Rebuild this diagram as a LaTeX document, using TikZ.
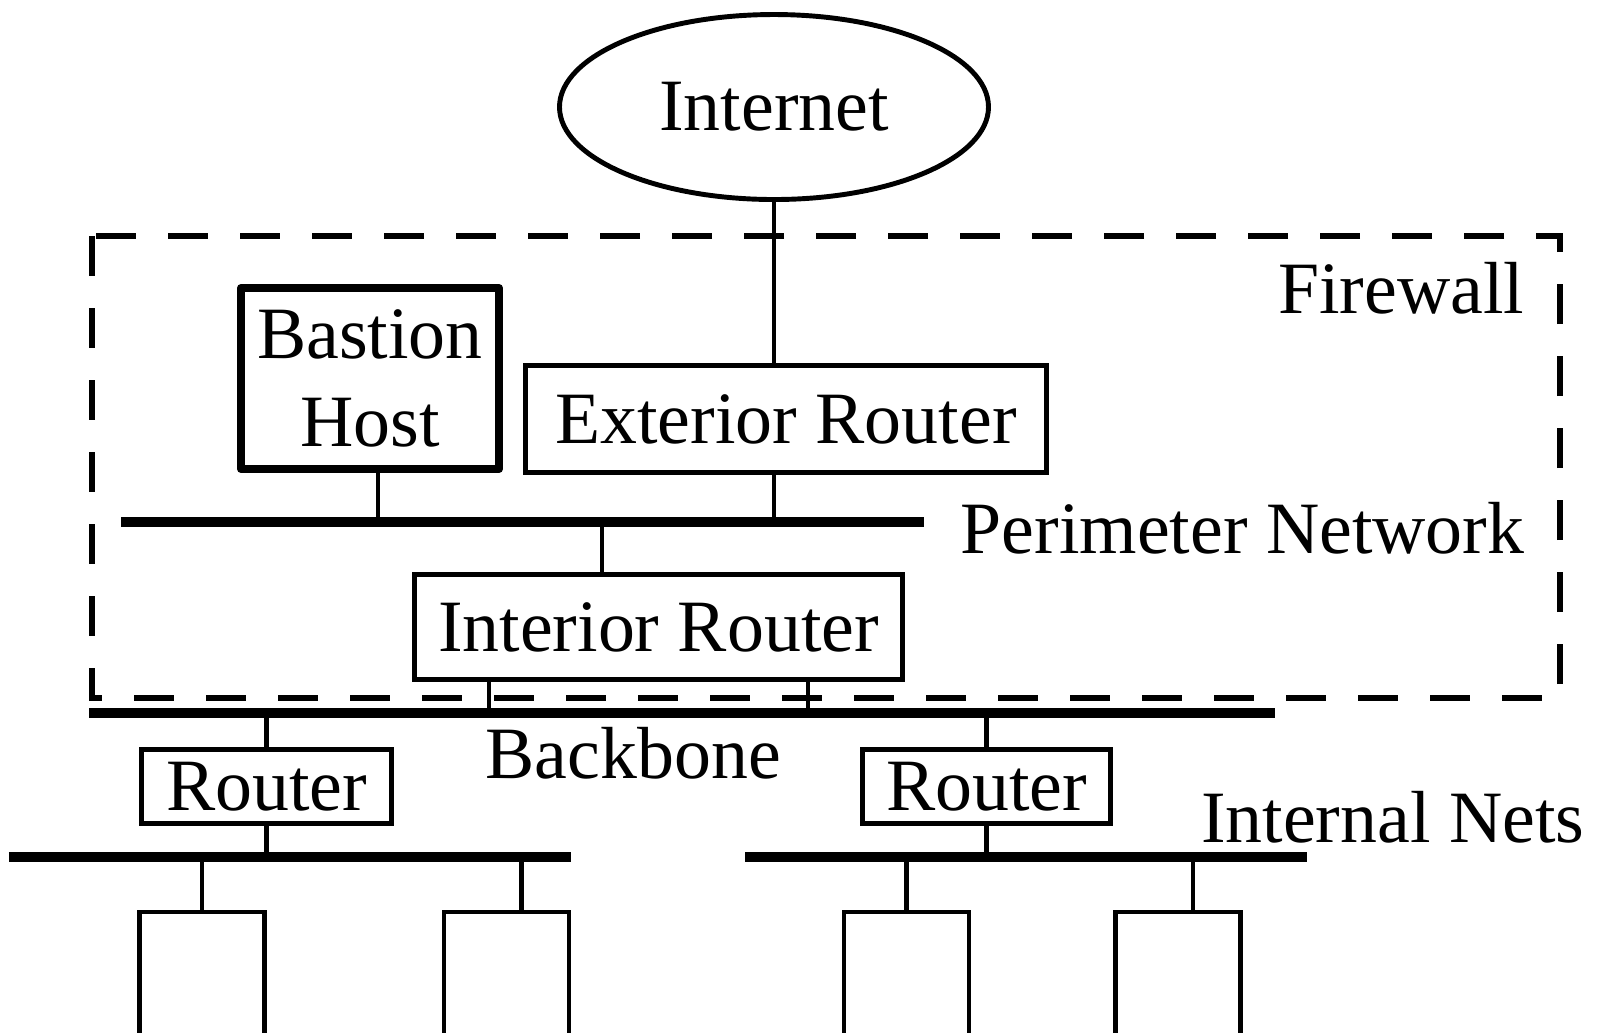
\documentclass[tikz,border=0pt]{standalone}
\usepackage{fontspec}
\setmainfont{Liberation Serif}
\usetikzlibrary{shapes.geometric}

\begin{document}
\begin{tikzpicture}[font=\fontsize{21}{25}\selectfont,
                box/.style={draw, line width=1.4pt, inner sep=0pt},
                bastionbox/.style={draw, line width=2.3pt, line join=round, inner sep=0pt, align=center},
                netline/.style={line width=3pt},
                link/.style={line width=1.4pt},
                lbl/.style={inner sep=0pt}]

                    \useasboundingbox (0,0) rectangle (16.04,-10.32);

                    \node[ellipse, draw, line width=1.4pt, minimum width=4.29cm, minimum height=1.85cm] (inet) at (7.74,-1.07) {Internet};
                    \node[box, minimum width=5.21cm, minimum height=1.07cm] (ext) at (7.86,-4.19) {Exterior Router};
                    \node[bastionbox, minimum width=2.58cm, minimum height=1.81cm] (bastion) at (3.70,-3.785) {Bastion\\Host};
                    \node[box, minimum width=4.88cm, minimum height=1.05cm] (intr) at (6.585,-6.27) {Interior Router};
                    \node[box, minimum width=2.50cm, minimum height=0.74cm] (rtl) at (2.665,-7.865) {Router};
                    \node[box, minimum width=2.48cm, minimum height=0.74cm] (rtr) at (9.865,-7.865) {Router};
                    \node[box, minimum width=1.25cm, minimum height=1.6cm, anchor=north] (h1) at (2.02,-9.095) {};
                    \node[box, minimum width=1.25cm, minimum height=1.6cm, anchor=north] (h2) at (5.065,-9.095) {};
                    \node[box, minimum width=1.25cm, minimum height=1.6cm, anchor=north] (h3) at (9.065,-9.095) {};
                    \node[box, minimum width=1.25cm, minimum height=1.6cm, anchor=north] (h4) at (11.78,-9.095) {};

                    \node[lbl, anchor=base east] (fwlbl) at (15.25,-3.13) {Firewall};
                    \node[lbl, anchor=base east] (perimlbl) at (15.25,-5.53) {Perimeter Network};
                    \node[lbl, anchor=base west] (bblbl) at (4.85,-7.78) {Backbone};
                    \node[lbl, anchor=base east] (intlbl) at (15.85,-8.42) {Internal Nets};

                    \coordinate (perimW) at (1.21,-5.22); \coordinate (perimE) at (9.24,-5.22);
                    \coordinate (bbW) at (0.89,-7.13); \coordinate (bbE) at (12.75,-7.13);
                    \coordinate (intLW) at (0.09,-8.57); \coordinate (intLE) at (5.71,-8.57);
                    \coordinate (intRW) at (7.45,-8.57); \coordinate (intRE) at (13.07,-8.57);
                    \coordinate (intrup) at (6.02,-5.22);
                    \coordinate (bbA) at (4.89,-7.13); \coordinate (bbB) at (8.08,-7.13);

                    \draw[line width=1.9pt, dash pattern=on 0.40cm off 0.32cm] (0.92,-2.36) rectangle (15.60,-6.98);

                    \draw[link] (inet.south) -- (inet.south |- ext.north);
                    \draw[link] (inet.south |- ext.south) -- (inet.south |- perimW);
                    \draw[link] ([xshift=0.08cm]bastion.south) -- ([xshift=0.08cm]bastion.south |- perimW);
                    \draw[link] (intrup) -- (intrup |- intr.north);
                    \draw[link] (bbA |- intr.south) -- (bbA);
                    \draw[link] (bbB |- intr.south) -- (bbB);
                    \draw[link] (rtl.north) -- (rtl.north |- bbW);
                    \draw[link] (rtr.north) -- (rtr.north |- bbW);
                    \draw[link] (rtl.south) -- (rtl.south |- intLW);
                    \draw[link] (rtr.south) -- (rtr.south |- intRW);
                    \draw[link] (h1.north) -- (h1.north |- intLW);
                    \draw[link] ([xshift=0.15cm]h2.north) -- ([xshift=0.15cm]h2.north |- intLW);
                    \draw[link] (h3.north) -- (h3.north |- intRW);
                    \draw[link] ([xshift=0.15cm]h4.north) -- ([xshift=0.15cm]h4.north |- intRW);

                    \draw[netline] (perimW) -- (perimE);
                    \draw[netline] (bbW) -- (bbE);
                    \draw[netline] (intLW) -- (intLE);
                    \draw[netline] (intRW) -- (intRE);

                \end{tikzpicture}
\end{document}
